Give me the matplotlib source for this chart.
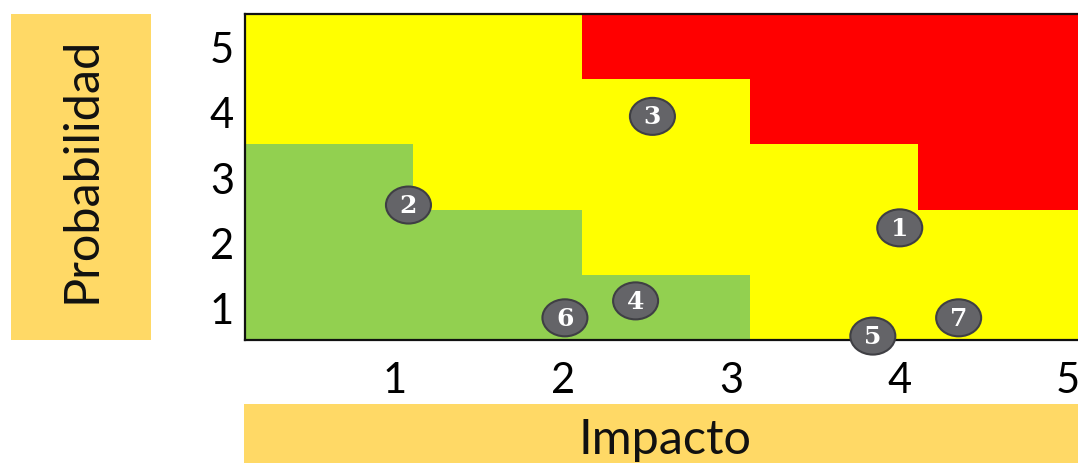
import numpy as np
import matplotlib
matplotlib.use("Agg")
import matplotlib.pyplot as plt
from matplotlib.colors import ListedColormap
from matplotlib.patches import Ellipse, Rectangle

# Risk matrix levels: rows = probability 1..5 (bottom to top), cols = impact 1..5
# 0 = low (green), 1 = medium (yellow), 2 = high (red)
risk_levels = [
    [0, 0, 0, 1, 1],
    [0, 0, 1, 1, 1],
    [0, 1, 1, 1, 2],
    [1, 1, 1, 2, 2],
    [1, 1, 2, 2, 2],
]
impact_labels = ["1", "2", "3", "4", "5"]
prob_labels = ["1", "2", "3", "4", "5"]

# Risks placed on the matrix
risk_ids = ["1", "2", "3", "4", "5", "6", "7"]
risk_impact = [4.00, 1.08, 2.53, 2.43, 3.84, 2.01, 4.35]
risk_prob = [2.22, 2.57, 3.93, 1.10, 0.56, 0.84, 0.84]

W, H = 1078, 464
fig = plt.figure(figsize=(W / 100, H / 100), dpi=100)
fig.patch.set_facecolor("white")

ax = fig.add_axes([245 / W, (H - 341) / H, (W - 245) / W, 326 / H])

cmap = ListedColormap(["#92D050", "#FFFF00", "#FF0000"])
col_shift = 0.109
x_edges = np.arange(6) + col_shift
y_edges = np.arange(6) + 0.5
ax.pcolormesh(x_edges, y_edges, np.array(risk_levels), cmap=cmap, vmin=0, vmax=2)

ax.set_xlim(col_shift - 0.0005, 1 + (W - 395) / 168.25)
ax.set_ylim(0.5, 5.5)

ax.set_xticks(np.arange(1, 6))
ax.set_xticklabels(impact_labels)
ax.set_yticks(np.arange(1, 6))
ax.set_yticklabels(prob_labels)
ax.tick_params(length=0, labelsize=30, pad=8)
ax.tick_params(axis="x", pad=15)
for lab in ax.get_xticklabels() + ax.get_yticklabels():
    lab.set_fontfamily("Lato")

for side in ("left", "bottom", "top"):
    ax.spines[side].set_color("#111111")
    ax.spines[side].set_linewidth(1.6)
ax.spines["right"].set_visible(False)

# Risk markers: grey ellipses with numbers
ew = 45 / 168.25
eh = 37 / 65.2
for rid, xi, yi in zip(risk_ids, risk_impact, risk_prob):
    e = Ellipse((xi, yi), ew, eh, facecolor="#646468", edgecolor="#3F3F44",
                linewidth=1.5, clip_on=False, zorder=5)
    ax.add_patch(e)
    ax.text(xi, yi, rid, ha="center", va="center", color="white",
            fontsize=18, fontweight="bold", family="DejaVu Serif",
            zorder=6, clip_on=False)

# Axis title boxes
label_color = "#FFD966"
fig.patches.append(Rectangle((11 / W, (H - 341) / H), 140 / W, 326 / H,
                             transform=fig.transFigure, facecolor=label_color,
                             edgecolor="none", zorder=0))
fig.patches.append(Rectangle((244 / W, 0), (W - 244) / W, 59 / H,
                             transform=fig.transFigure, facecolor=label_color,
                             edgecolor="none", zorder=0))
fig.text(82 / W, 1 - 170 / H, "Probabilidad", rotation=90, ha="center",
         va="center", fontsize=35, family="Lato", color="#111111")
fig.text(665 / W, 1 - 440 / H, "Impacto", ha="center", va="center",
         fontsize=35, family="Lato", color="#111111")

fig.savefig("out.png", dpi=100)
